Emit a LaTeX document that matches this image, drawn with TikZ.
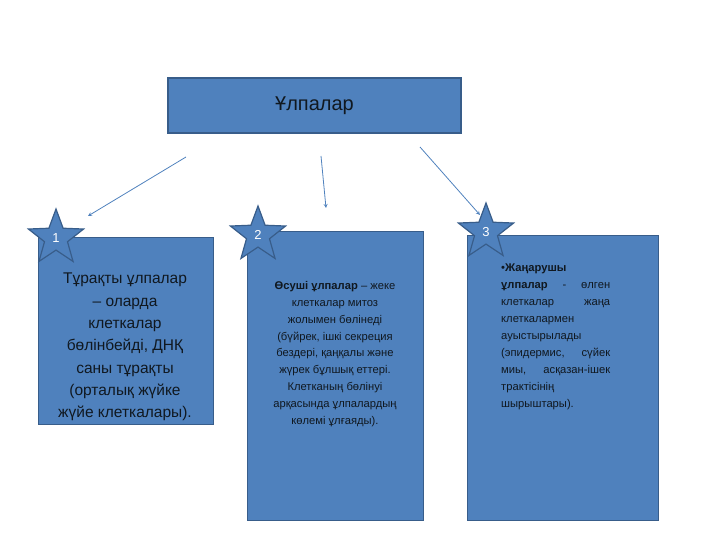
\documentclass[tikz,border=0pt]{standalone}
\usepackage{fontspec}
\setmainfont{Liberation Sans}
\usetikzlibrary{shapes.geometric}
\definecolor{bfill}{HTML}{4F81BD}
\definecolor{bdraw}{HTML}{385D8A}
\definecolor{ink}{HTML}{101820}
\tikzset{
  panel/.style={fill=bfill,draw=bdraw,line width=1.2pt},
  starmark/.style={star,star points=5,star point ratio=2.4,fill=bfill,draw=bdraw,line width=1.2pt,minimum size=58pt,inner sep=0pt,text=white,font=\fontsize{13}{13}\selectfont},
  conn/.style={draw=bfill,line width=0.8pt,-stealth}
}
\begin{document}
\begin{tikzpicture}[x=1pt,y=-1pt]
\useasboundingbox (0,0) rectangle (720,540);
\node[panel,minimum width=293pt,minimum height=55pt,font=\fontsize{20}{20}\selectfont,text=ink] (t) at (314.5,105.5) {Ұлпалар};
\node[panel,minimum width=175pt,minimum height=187pt,anchor=north west] (b1) at (38,237) {};
\node[panel,minimum width=176pt,minimum height=289pt,anchor=north west] (b2) at (247,231) {};
\node[panel,minimum width=191pt,minimum height=285pt,anchor=north west] (b3) at (467,235) {};
\node[starmark] (s1) at (56,238) {\raisebox{-8pt}{1}};
\node[starmark] (s2) at (258,235) {\raisebox{-4pt}{2}};
\node[starmark] (s3) at (486,232) {\raisebox{-1pt}{3}};
\node[text=ink,align=center,font=\fontsize{15.5}{22.3}\selectfont] (x1) at (125,347)
 {Тұрақты ұлпалар\\– оларда\\клеткалар\\бөлінбейді, ДНҚ\\саны тұрақты\\(орталық жүйке\\жүйе клеткалары).};
\node[text=ink,align=center,font=\fontsize{11.2}{16.8}\selectfont] (x2) at (335,354)
 {\textbf{Өсуші ұлпалар} – жеке\\клеткалар митоз\\жолымен бөлінеді\\(бүйрек, ішкі секреция\\бездері, қаңқалы және\\жүрек бұлшық еттері.\\Клетканың бөлінуі\\арқасында ұлпалардың\\көлемі ұлғаяды).};
\node[text=ink,align=left,font=\fontsize{11.2}{17}\selectfont,anchor=north west,inner sep=0pt] (x3) at (501,264)
 {•\textbf{Жаңарушы}\\\makebox[109pt][s]{\textbf{ұлпалар}\hfill-\hfill өлген}\\\makebox[109pt][s]{клеткалар\hfill жаңа}\\клеткалармен\\ауыстырылады\\\makebox[109pt][s]{(эпидермис,\hfill сүйек}\\\makebox[109pt][s]{миы,\hfill асқазан-ішек}\\трактісінің\\шырыштары).};
\coordinate (a1) at (186,157); \coordinate (a2) at (321,156); \coordinate (a3) at (420,147);
\draw[conn] (a1) -- (88,216);
\draw[conn] (a2) -- (326,208);
\draw[conn] (a3) -- (480,215);
\end{tikzpicture}
\end{document}
